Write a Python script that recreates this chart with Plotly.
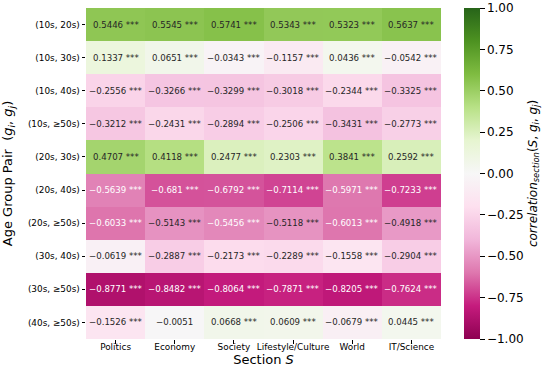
import plotly.graph_objects as go

sections = ["Politics", "Economy", "Society", "Lifestyle/Culture", "World", "IT/Science"]
pairs = ["(10s, 20s)", "(10s, 30s)", "(10s, 40s)", "(10s, ≥50s)", "(20s, 30s)",
         "(20s, 40s)", "(20s, ≥50s)", "(30s, 40s)", "(30s, ≥50s)", "(40s, ≥50s)"]

values = [
    [0.5446, 0.5545, 0.5741, 0.5343, 0.5323, 0.5637],
    [0.1337, 0.0651, -0.0343, -0.1157, 0.0436, -0.0542],
    [-0.2556, -0.3266, -0.3299, -0.3018, -0.2344, -0.3325],
    [-0.3212, -0.2431, -0.2894, -0.2506, -0.3431, -0.2773],
    [0.4707, 0.4118, 0.2477, 0.2303, 0.3841, 0.2592],
    [-0.5639, -0.681, -0.6792, -0.7114, -0.5971, -0.7233],
    [-0.6033, -0.5143, -0.5456, -0.5118, -0.6013, -0.4918],
    [-0.0619, -0.2887, -0.2173, -0.2289, -0.1558, -0.2904],
    [-0.8771, -0.8482, -0.8064, -0.7871, -0.8205, -0.7624],
    [-0.1526, -0.0051, 0.0668, 0.0609, -0.0679, 0.0445],
]
stars = [["***"] * 6 for _ in range(10)]
stars[9][1] = ""

piyg = ['rgb(142,1,82)', 'rgb(197,27,125)', 'rgb(222,119,174)', 'rgb(241,182,218)',
        'rgb(253,224,239)', 'rgb(247,247,247)', 'rgb(230,245,208)', 'rgb(184,225,134)',
        'rgb(127,188,65)', 'rgb(77,146,33)', 'rgb(39,100,25)']
cscale = [[i / 10, c] for i, c in enumerate(piyg)]

FONT = "DejaVu Sans"

fig = go.Figure(go.Heatmap(
    z=values, x=sections, y=pairs, zmin=-1, zmax=1, colorscale=cscale,
    xgap=0, ygap=0, hoverinfo="skip",
    colorbar=dict(
        x=1.065, xanchor="left", y=0.5, yanchor="middle", len=1, lenmode="fraction",
        xpad=0, ypad=0,
        thickness=16, outlinewidth=0, ticks="outside", ticklen=5, tickcolor="black",
        tickvals=[-1, -0.75, -0.5, -0.25, 0, 0.25, 0.5, 0.75, 1],
        tickformat=".2f", tickfont=dict(family=FONT, size=12, color="black"),
        title=dict(
            text="<i>correlation</i><sub><i>section</i></sub>(<i>S</i>, <i>g<sub>i</sub></i>, <i>g<sub>j</sub></i>)",
            side="right", font=dict(family=FONT, size=12, color="black")),
    ),
))

annotations = []
for i, p in enumerate(pairs):
    for j, s in enumerate(sections):
        v = values[i][j]
        txt = str(v).replace("-", "\u2212")
        if stars[i][j]:
            txt += " " + stars[i][j]
        col = "white" if v < -0.53 else "#262626"
        annotations.append(dict(x=s, y=p, xref="x", yref="y", text=txt, showarrow=False,
                                font=dict(family=FONT, size=8.6, color=col)))

fig.update_layout(
    width=550, height=377,
    margin=dict(l=86, r=109, t=8, b=38, autoexpand=False),
    paper_bgcolor="white", plot_bgcolor="white",
    font=dict(family=FONT, color="black"),
    annotations=annotations,
    xaxis=dict(ticks="outside", ticklen=3.5, tickcolor="black", tickfont=dict(size=8.9),
               tickangle=0, ticklabelstandoff=-4, showgrid=False, zeroline=False,
               automargin=False,
               title=dict(text="Section <i>S</i>", font=dict(size=13), standoff=0)),
    yaxis=dict(ticks="outside", ticklen=3.5, tickcolor="black", tickfont=dict(size=8.9),
               autorange="reversed", showgrid=False, zeroline=False, automargin=False,
               title=dict(text="Age Group Pair  (<i>g<sub>i</sub></i>, <i>g<sub>j</sub></i>)",
                          font=dict(size=13), standoff=15)),
)

fig.write_html("out.html", config={"displayModeBar": False},
               post_script="document.body.style.margin='0';")
